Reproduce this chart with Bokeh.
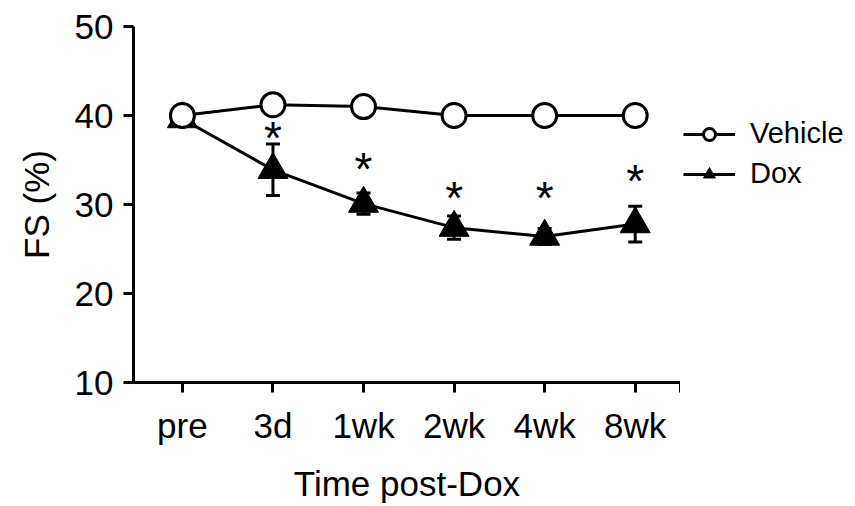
from bokeh.plotting import figure
from bokeh.layouts import row
from bokeh.models import (ColumnDataSource, Whisker, TeeHead, FixedTicker, Legend, LegendItem)
from bokeh.core.properties import value
from bokeh.embed import file_html
from bokeh.resources import INLINE

# ---- data ----
categories = ["pre", "3d", "1wk", "2wk", "4wk", "8wk"]
vehicle_mean = [40.0, 41.2, 41.0, 40.0, 40.0, 40.0]
vehicle_err = [0.0, 0.0, 0.8, 0.0, 0.0, 0.0]
dox_mean = [39.6, 33.9, 30.1, 27.4, 26.4, 27.8]
dox_err = [0.0, 2.9, 1.2, 1.3, 0.9, 2.0]
star_labels = ["", "*", "*", "*", "*", "*"]
star_y = [None, 38.1, 34.7, 31.4, 31.4, 33.3]
series_names = ["Vehicle", "Dox"]

FONT = "Liberation Sans"
xs = list(range(len(categories)))

p = figure(frame_width=547, frame_height=356, output_backend="svg", toolbar_location=None,
           x_range=(-0.54, 5.5), y_range=(10, 50),
           min_border_left=133, min_border_right=0, min_border_top=26,
           min_border_bottom=121)
p.outline_line_color = None
p.grid.visible = False
p.background_fill_color = "white"
p.border_fill_color = "white"

# axes
xa = p.xaxis[0]
xa.ticker = FixedTicker(ticks=xs + [5.5])
overrides = {i: c for i, c in enumerate(categories)}
overrides[5.5] = ""
xa.major_label_overrides = overrides
xa.axis_label = "Time post-Dox"
ya = p.yaxis[0]
ya.ticker = FixedTicker(ticks=[10, 20, 30, 40, 50])
ya.axis_label = "FS (%)"
for ax in (xa, ya):
    ax.axis_line_width = 3
    ax.major_tick_line_width = 3
    ax.major_tick_out = 10
    ax.major_tick_in = 0
    ax.minor_tick_out = 0
    ax.minor_tick_in = 0
    ax.axis_line_color = "black"
    ax.major_tick_line_color = "black"
    ax.major_label_text_font = FONT
    ax.major_label_text_font_size = "35px"
    ax.major_label_text_color = "black"
    ax.axis_label_text_font = FONT
    ax.axis_label_text_font_size = "35px"
    ax.axis_label_text_font_style = "normal"
    ax.axis_label_text_color = "black"
xa.major_label_standoff = 13
xa.axis_label_standoff = 16
ya.major_label_standoff = 10
ya.axis_label_standoff = 16

veh_src = ColumnDataSource(dict(
    x=xs, y=vehicle_mean,
    lo=[m - e for m, e in zip(vehicle_mean, vehicle_err)],
    hi=[m + e for m, e in zip(vehicle_mean, vehicle_err)]))
dox_src = ColumnDataSource(dict(
    x=xs, y=dox_mean,
    lo=[m - e for m, e in zip(dox_mean, dox_err)],
    hi=[m + e for m, e in zip(dox_mean, dox_err)]))

for src, col in ((veh_src, "#444444"), (dox_src, "black")):
    w = Whisker(source=src, base="x", lower="lo", upper="hi", level="underlay",
                line_width=3, line_color=col,
                upper_head=TeeHead(size=14, line_width=3, line_color=col),
                lower_head=TeeHead(size=14, line_width=3, line_color=col))
    p.add_layout(w)

VEH_LINE = dict(line_width=3, line_color="black")
DOX_LINE = dict(line_width=3, line_color="black")
VEH_MARK = dict(marker="circle", size=24, fill_color="white", line_color="black", line_width=3)
DOX_MARK = dict(marker="triangle", size=30, fill_color="black", line_color="black", line_width=1)

p.line("x", "y", source=veh_src, **VEH_LINE)
p.line("x", "y", source=dox_src, **DOX_LINE)
p.scatter("x", "y", source=dox_src, **DOX_MARK)
p.scatter("x", "y", source=veh_src, **VEH_MARK)

star_src = ColumnDataSource(dict(x=xs[1:], y=star_y[1:], t=star_labels[1:]))
p.text("x", "y", text="t", source=star_src, text_font=value(FONT),
       text_font_size="46px", text_align="center", text_baseline="middle",
       text_color="black", y_offset=6)

# ---- legend panel (separate small figure beside the plot; its data lie outside its view) ----
lf = figure(width=170, height=503, output_backend="svg", toolbar_location=None,
            x_range=(100, 101), y_range=(100, 101), x_axis_location=None, y_axis_location=None,
            min_border_left=0, min_border_right=0, min_border_top=26, min_border_bottom=121)
lf.outline_line_color = None
lf.grid.visible = False
lvl = lf.line("x", "y", source=veh_src, **VEH_LINE)
lvm = lf.scatter("x", "y", source=veh_src, **VEH_MARK)
ldl = lf.line("x", "y", source=dox_src, **DOX_LINE)
ldm = lf.scatter("x", "y", source=dox_src, **DOX_MARK)

legend = Legend(items=[LegendItem(label=series_names[0], renderers=[lvl, lvm]),
                       LegendItem(label=series_names[1], renderers=[ldl, ldm])],
                location=(3, 190), border_line_color=None,
                background_fill_alpha=0, padding=0, margin=0, spacing=7,
                glyph_width=52, glyph_height=30, label_standoff=15,
                label_text_font=FONT, label_text_font_size="29px",
                label_text_color="black")
lf.add_layout(legend)

layout = row(p, lf)
open("out.html", "w").write(file_html(layout, INLINE))
